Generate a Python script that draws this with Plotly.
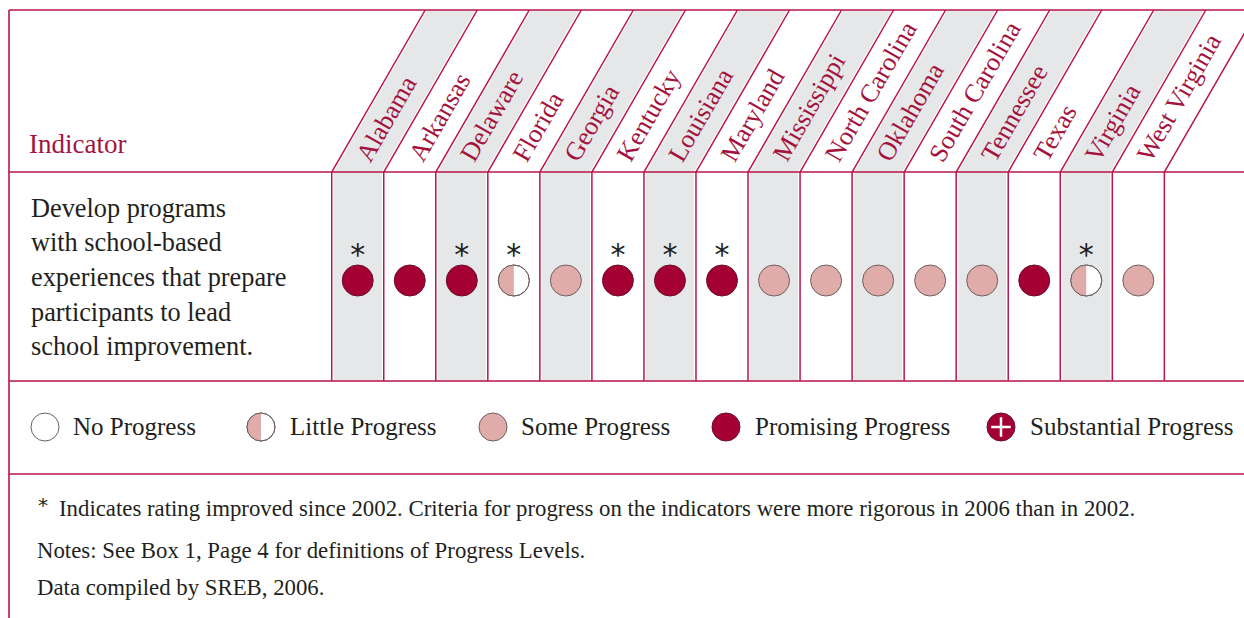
import math
import plotly.graph_objects as go

# ---------------- data ----------------
states = ["Alabama", "Arkansas", "Delaware", "Florida", "Georgia", "Kentucky",
          "Louisiana", "Maryland", "Mississippi", "North Carolina", "Oklahoma",
          "South Carolina", "Tennessee", "Texas", "Virginia", "West Virginia"]
ratings = ["Promising", "Promising", "Promising", "Little", "Some", "Promising",
           "Promising", "Promising", "Some", "Some", "Some", "Some", "Some",
           "Promising", "Little", "Some"]
improved = [True, False, True, True, False, True, True, True, False, False,
            False, False, False, False, True, False]
indicator_title = "Indicator"
indicator_lines = ["Develop programs", "with school-based", "experiences that prepare",
                   "participants to lead", "school improvement."]
legend_levels = ["None", "Little", "Some", "Promising", "Substantial"]
legend_labels = ["No Progress", "Little Progress", "Some Progress",
                 "Promising Progress", "Substantial Progress"]
footnote_star = "*"
footnotes = ["Indicates rating improved since 2002. Criteria for progress on the indicators were more rigorous in 2006 than in 2002.",
             "Notes: See Box 1, Page 4 for definitions of Progress Levels.",
             "Data compiled by SREB, 2006."]

# ---------------- style / geometry ----------------
W, H = 1244, 618
LINE = "#b9154a"
TEXT_RED = "#a3133d"
DARK = "#231f20"
GRAY = "#e6e7e8"
PROMISING = "#a50034"
SOME = "#e0aca9"
OUTLINE = "#6e5f60"
FONT = "Liberation Serif"

LEFT = 9
TOP = 10
HB = 172     # header bottom
RB = 381     # row bottom
LB = 474     # legend bottom
X0 = 331.7
CW = 52.04
SLANT = (HB - TOP) / math.tan(math.radians(60))
ROW_Y = 280.5
STAR_Y = 257
DOT = 31
LEG_Y = 427
LEG_DOT = 28
LEG_SYM_X = [45, 261, 493, 726, 1001]
LEG_TXT_X = [71, 288, 519, 753, 1028]

FILL = {"None": "white", "Little": "white", "Some": SOME,
        "Promising": PROMISING, "Substantial": PROMISING}
EDGE = {"None": OUTLINE, "Little": OUTLINE, "Some": OUTLINE,
        "Promising": "#6a1030", "Substantial": "#6a1030"}

fig = go.Figure()
shapes = []

# gray bands (alternate columns)
for i in range(len(states)):
    b = X0 + i * CW
    if i % 2 == 0:
        l, r = b + 2, b + CW - 2
        shapes.append(dict(type="rect", xref="x", yref="y", x0=l, x1=r, y0=HB, y1=RB,
                           fillcolor=GRAY, line=dict(width=0), layer="below"))
        shapes.append(dict(type="path", xref="x", yref="y",
                           path=f"M{l},{HB} L{r},{HB} L{r + SLANT},{TOP} L{l + SLANT},{TOP} Z",
                           fillcolor=GRAY, line=dict(width=0), layer="below"))

# frame lines
for y in [TOP, HB, RB, LB]:
    shapes.append(dict(type="line", xref="x", yref="y", x0=LEFT, x1=W + 5, y0=y, y1=y,
                       line=dict(color=LINE, width=1.6), layer="below"))
shapes.append(dict(type="line", xref="x", yref="y", x0=LEFT, x1=LEFT, y0=TOP, y1=H + 5,
                   line=dict(color=LINE, width=1.6), layer="below"))
for i in range(len(states) + 1):
    b = X0 + i * CW
    shapes.append(dict(type="line", xref="x", yref="y", x0=b, x1=b, y0=HB, y1=RB,
                       line=dict(color=LINE, width=1.5), layer="below"))
    shapes.append(dict(type="line", xref="x", yref="y", x0=b, x1=b + SLANT, y0=HB, y1=TOP,
                       line=dict(color=LINE, width=1.5), layer="below"))


def half_disk(cx, cy, r):
    xs, ys = [], []
    for k in range(0, 37):
        t = math.radians(90 + k * 5)
        xs.append(cx + r * math.cos(t))
        ys.append(cy + r * math.sin(t))
    xs.append(xs[0]); ys.append(ys[0])
    return xs, ys


def draw_symbols(xs, ys, levels, size):
    fig.add_trace(go.Scatter(
        x=xs, y=ys, mode="markers", hoverinfo="skip",
        marker=dict(size=size, symbol="circle", color=[FILL[l] for l in levels],
                    line=dict(color=[EDGE[l] for l in levels], width=1))))
    for x, y, l in zip(xs, ys, levels):
        if l == "Little":
            hx, hy = half_disk(x, y, size / 2 - 0.3)
            fig.add_trace(go.Scatter(x=hx, y=hy, mode="lines", fill="toself",
                                     fillcolor=SOME, line=dict(width=0), hoverinfo="skip"))
            fig.add_trace(go.Scatter(x=[x], y=[y], mode="markers", hoverinfo="skip",
                                     marker=dict(size=size, color="rgba(0,0,0,0)",
                                                 line=dict(color=OUTLINE, width=1))))
        if l == "Substantial":
            fig.add_trace(go.Scatter(x=[x], y=[y], mode="markers", hoverinfo="skip",
                                     marker=dict(size=size * 0.5, symbol="cross-thin",
                                                 line=dict(color="white", width=2.5))))


# state ratings
cx = [X0 + (i + 0.5) * CW for i in range(len(states))]
draw_symbols(cx, [ROW_Y] * len(states), ratings, DOT)

# improvement asterisks
sx = [x for x, f in zip(cx, improved) if f]
fig.add_trace(go.Scatter(x=sx, y=[STAR_Y] * len(sx), mode="text", text=["*"] * len(sx),
                         textfont=dict(family="DejaVu Sans", size=30, color=DARK),
                         textposition="middle center", hoverinfo="skip"))

# legend symbols
draw_symbols(LEG_SYM_X, [LEG_Y] * len(legend_levels), legend_levels, LEG_DOT)

annotations = []
# state labels (slanted)
for i, s in enumerate(states):
    b = X0 + i * CW
    annotations.append(dict(x=b + 16, y=169, xref="x", yref="y", text=s, showarrow=False,
                            textangle=-60, xanchor="left", yanchor="bottom",
                            font=dict(family=FONT, size=26, color=TEXT_RED)))

annotations.append(dict(x=27, y=144, xref="x", yref="y", text=indicator_title,
                        showarrow=False, xanchor="left", yanchor="middle",
                        font=dict(family=FONT, size=27, color=TEXT_RED)))
for k, t in enumerate(indicator_lines):
    annotations.append(dict(x=29, y=208 + k * 34.7, xref="x", yref="y", text=t,
                            showarrow=False, xanchor="left", yanchor="middle",
                            font=dict(family=FONT, size=26.3, color=DARK)))

for x, t in zip(LEG_TXT_X, legend_labels):
    annotations.append(dict(x=x, y=LEG_Y - 1, xref="x", yref="y", text=t,
                            showarrow=False, xanchor="left", yanchor="middle",
                            font=dict(family=FONT, size=25, color=DARK)))

annotations.append(dict(x=43, y=505, xref="x", yref="y", text=footnote_star,
                        showarrow=False, xanchor="center", yanchor="middle",
                        font=dict(family="DejaVu Sans", size=20, color=DARK)))
foot_x = [57, 35, 35]
foot_y = [508, 550, 587]
for x, y, t in zip(foot_x, foot_y, footnotes):
    annotations.append(dict(x=x, y=y, xref="x", yref="y", text=t,
                            showarrow=False, xanchor="left", yanchor="middle",
                            font=dict(family=FONT, size=22.8, color=DARK)))

fig.update_layout(
    width=W, height=H, autosize=False,
    margin=dict(l=0, r=0, t=0, b=0, pad=0),
    paper_bgcolor="white", plot_bgcolor="white",
    showlegend=False, hovermode=False,
    shapes=shapes, annotations=annotations,
    xaxis=dict(range=[0, W], visible=False, fixedrange=True),
    yaxis=dict(range=[H, 0], visible=False, fixedrange=True),
)

fig.write_html("out.html", config={"displayModeBar": False},
               post_script="document.body.style.margin='0';document.body.style.overflow='hidden';")
